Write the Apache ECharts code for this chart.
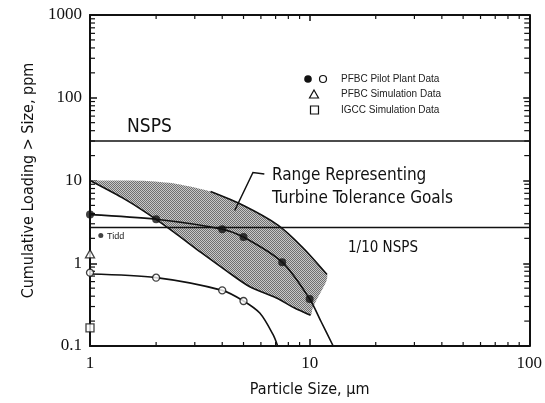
<!DOCTYPE html>
<html>
<head>
<meta charset="utf-8">
<script src="https://cdn.jsdelivr.net/npm/echarts@6.0.0/dist/echarts.min.js"></script>
<style>
  html, body { margin: 0; padding: 0; background: #fff; }
  #chart { width: 545px; height: 403px; }
</style>
</head>
<body>
<div id="chart"></div>
<script>
// PFBC pilot plant data (filled circles) and its curve
const filledX = [1, 2, 4, 5, 7.5, 10];
const filledY = [3.87, 3.4, 2.58, 2.07, 1.03, 0.37];
const filledCurveX = [1, 2, 4, 5, 7.5, 10, 11.3, 12.8];
const filledCurveY = [3.87, 3.4, 2.58, 2.07, 1.03, 0.37, 0.195, 0.1];

// PFBC pilot plant data (open circles) and its curve
const openX = [1, 2, 4, 5];
const openY = [0.77, 0.67, 0.47, 0.35];
const openCurveX = [1, 2, 4, 5, 5.93, 6.81, 7.15];
const openCurveY = [0.74, 0.67, 0.47, 0.35, 0.25, 0.138, 0.1];

// single points
const tidd = [1.12, 2.17];
const pfbcSim = [1, 1.3];
const igccSim = [1, 0.166];

// standards
const nspsLevel = 30;
const tenthNspsLevel = 2.7;

// turbine tolerance band
const bandUpperX = [1, 1.75, 2.48, 3.54, 5.0, 7.2, 9.3, 12.0];
const bandUpperY = [10, 9.9, 9.08, 7.34, 4.98, 2.87, 1.55, 0.73];
const bandEdgeX = [11.9, 11.4, 10.8, 10.3];
const bandEdgeY = [0.6, 0.48, 0.37, 0.28];
const bandLowerX = [10.1, 8.5, 7.06, 5.34, 4.18, 3.2, 2.4, 1.8, 1.4, 1];
const bandLowerY = [0.235, 0.29, 0.38, 0.52, 0.81, 1.35, 2.4, 4.1, 6.2, 10];
const bandOutlineFrom = 3; // upper outline drawn from this point on

// leader arrow for the band label
const leaderX = [6.22, 5.52, 4.56];
const leaderY = [12.0, 12.5, 4.34];

// axes
const xTicks = [1, 10, 100];
const xTickLabels = ['1', '10', '100'];
const yTicks = [0.1, 1, 10, 100, 1000];
const yTickLabels = ['0.1', '1', '10', '100', '1000'];
const xMinor = [2, 3, 4, 5, 6, 7, 8, 9, 20, 30, 40, 50, 60, 70, 80, 90];
const yMinor = [0.2, 0.3, 0.4, 0.5, 0.6, 0.7, 0.8, 0.9, 2, 3, 4, 5, 6, 7, 8, 9,
  20, 30, 40, 50, 60, 70, 80, 90, 200, 300, 400, 500, 600, 700, 800, 900];

const zip = (xs, ys) => xs.map((x, i) => [x, ys[i]]);

const band = zip(bandUpperX, bandUpperY)
  .concat(zip(bandEdgeX, bandEdgeY))
  .concat(zip(bandLowerX, bandLowerY));

// stipple fill for the band
const pat = document.createElement('canvas');
pat.width = 2;
pat.height = 2;
const pctx = pat.getContext('2d');
pctx.fillStyle = '#c8c8c8';
pctx.fillRect(0, 0, 2, 2);
pctx.fillStyle = '#707070';
pctx.fillRect(0, 0, 1, 1);
pctx.fillRect(1, 1, 1, 1);

const chart = echarts.init(document.getElementById('chart'));

const labelFont = 'Liberation Serif';
const condFont = 'DejaVu Sans Condensed';
const lineStyle = { color: '#111', width: 1.6 };

const option = {
  animation: false,
  backgroundColor: '#fff',
  grid: { left: 90, right: 15, top: 15, bottom: 55 },
  xAxis: [
    {
      type: 'log', logBase: 10, min: 1, max: 100,
      name: 'Particle Size, μm', nameLocation: 'middle', nameGap: 36,
      nameTextStyle: { fontFamily: condFont, fontSize: 16, color: '#111' },
      axisLine: { lineStyle: { color: '#111', width: 2 } },
      axisTick: { inside: true, length: 7, lineStyle: { color: '#111', width: 1.5 } },
      axisLabel: {
        fontFamily: labelFont, fontSize: 17, color: '#111', margin: 9,
        formatter: v => xTickLabels[xTicks.findIndex(t => Math.abs(t - v) < v * 1e-6)] || ''
      },
      splitLine: { show: false }
    },
    {
      type: 'log', logBase: 10, min: 1, max: 100, position: 'top',
      axisLine: { lineStyle: { color: '#111', width: 2 } },
      axisTick: { inside: true, length: 6, lineStyle: { color: '#111', width: 1.5 } },
      axisLabel: { show: false },
      splitLine: { show: false }
    }
  ],
  yAxis: [
    {
      type: 'log', logBase: 10, min: 0.1, max: 1000,
      name: 'Cumulative Loading > Size, ppm', nameLocation: 'middle', nameGap: 52,
      nameTextStyle: { fontFamily: condFont, fontSize: 16, color: '#111' },
      axisLine: { lineStyle: { color: '#111', width: 2 } },
      axisTick: { inside: true, length: 7, lineStyle: { color: '#111', width: 1.5 } },
      axisLabel: {
        fontFamily: labelFont, fontSize: 17, color: '#111', margin: 8,
        formatter: v => yTickLabels[yTicks.findIndex(t => Math.abs(t - v) < v * 1e-6)] || ''
      },
      splitLine: { show: false }
    },
    {
      type: 'log', logBase: 10, min: 0.1, max: 1000, position: 'right',
      axisLine: { lineStyle: { color: '#111', width: 2 } },
      axisTick: { inside: true, length: 6, lineStyle: { color: '#111', width: 1.5 } },
      axisLabel: { show: false },
      splitLine: { show: false }
    }
  ],
  graphic: [
    // legend, top right
    { type: 'circle', shape: { cx: 308, cy: 79, r: 3.8 }, style: { fill: '#111' } },
    { type: 'circle', shape: { cx: 323, cy: 79, r: 3.5 }, style: { fill: '#fff', stroke: '#111', lineWidth: 1.2 } },
    { type: 'text', x: 341, y: 79, style: { text: 'PFBC Pilot Plant Data', fontFamily: 'Liberation Sans', fontSize: 10, fill: '#222', verticalAlign: 'middle' } },
    { type: 'polygon', shape: { points: [[314, 90], [318.5, 98], [309.5, 98]] }, style: { fill: '#fff', stroke: '#111', lineWidth: 1.2 } },
    { type: 'text', x: 341, y: 94, style: { text: 'PFBC Simulation Data', fontFamily: 'Liberation Sans', fontSize: 10, fill: '#222', verticalAlign: 'middle' } },
    { type: 'rect', shape: { x: 310.5, y: 106, width: 8, height: 8 }, style: { fill: '#fff', stroke: '#111', lineWidth: 1.2 } },
    { type: 'text', x: 341, y: 110, style: { text: 'IGCC Simulation Data', fontFamily: 'Liberation Sans', fontSize: 10, fill: '#222', verticalAlign: 'middle' } },
    // annotations
    { type: 'text', x: 127, y: 127, style: { text: 'NSPS', fontFamily: condFont, fontSize: 19, fill: '#111', verticalAlign: 'middle' } },
    { type: 'text', x: 348, y: 248, style: { text: '1/10 NSPS', fontFamily: condFont, fontSize: 15, fill: '#111', verticalAlign: 'middle' } },
    { type: 'text', x: 272, y: 176, style: { text: 'Range Representing', fontFamily: condFont, fontSize: 17, fill: '#111', verticalAlign: 'middle' } },
    { type: 'text', x: 272, y: 199, style: { text: 'Turbine Tolerance Goals', fontFamily: condFont, fontSize: 17, fill: '#111', verticalAlign: 'middle' } },
    { type: 'text', x: 107, y: 237, style: { text: 'Tidd', fontFamily: 'Liberation Sans', fontSize: 9, fill: '#222', verticalAlign: 'middle' } }
  ],
  series: [
    {
      // shaded band
      type: 'custom', z: 1, clip: false, silent: true,
      data: [band[0]],
      renderItem: (params, api) => ({
        type: 'polygon',
        shape: { points: band.map(p => api.coord(p)), smooth: 0.25 },
        style: { fill: { image: pat, repeat: 'repeat' }, stroke: null }
      })
    },
    {
      // minor ticks on bottom and top
      type: 'custom', z: 3, clip: false, silent: true,
      data: xMinor.map(v => [v, 0.1]),
      renderItem: (params, api) => {
        const v = api.value(0);
        const b = api.coord([v, 0.1]);
        const t = api.coord([v, 1000]);
        return {
          type: 'group', children: [
            { type: 'line', shape: { x1: b[0], y1: b[1], x2: b[0], y2: b[1] - 4 }, style: { stroke: '#111', lineWidth: 1.2 } },
            { type: 'line', shape: { x1: t[0], y1: t[1], x2: t[0], y2: t[1] + 4 }, style: { stroke: '#111', lineWidth: 1.2 } }
          ]
        };
      }
    },
    {
      // minor ticks on left and right
      type: 'custom', z: 3, clip: false, silent: true,
      data: yMinor.map(v => [1, v]),
      renderItem: (params, api) => {
        const v = api.value(1);
        const l = api.coord([1, v]);
        const r = api.coord([100, v]);
        return {
          type: 'group', children: [
            { type: 'line', shape: { x1: l[0], y1: l[1], x2: l[0] + 5, y2: l[1] }, style: { stroke: '#111', lineWidth: 1.2 } },
            { type: 'line', shape: { x1: r[0], y1: r[1], x2: r[0] - 5, y2: r[1] }, style: { stroke: '#111', lineWidth: 1.2 } }
          ]
        };
      }
    },
    {
      // NSPS
      type: 'line', z: 2, symbol: 'none', lineStyle: { color: '#111', width: 1.6 },
      data: [[1, nspsLevel], [100, nspsLevel]]
    },
    {
      // 1/10 NSPS
      type: 'line', z: 2, symbol: 'none', lineStyle: { color: '#111', width: 1.6 },
      data: [[1, tenthNspsLevel], [100, tenthNspsLevel]]
    },
    {
      // band upper outline
      type: 'line', z: 2, symbol: 'none', smooth: 0.3, lineStyle,
      data: zip(bandUpperX, bandUpperY).slice(bandOutlineFrom)
    },
    {
      // band lower outline
      type: 'line', z: 2, symbol: 'none', smooth: 0.3, lineStyle,
      data: zip(bandLowerX, bandLowerY)
    },
    {
      type: 'lines', coordinateSystem: 'cartesian2d', z: 3, polyline: true,
      symbol: ['none', 'arrow'], symbolSize: 8,
      lineStyle: { color: '#111', width: 1.5, opacity: 1 },
      data: [{ coords: zip(leaderX, leaderY) }]
    },
    {
      type: 'line', z: 3, symbol: 'none', smooth: 0.3, lineStyle,
      data: zip(filledCurveX, filledCurveY)
    },
    {
      type: 'line', z: 3, symbol: 'none', smooth: 0.3, lineStyle,
      data: zip(openCurveX, openCurveY)
    },
    {
      type: 'scatter', z: 4, clip: false, symbol: 'circle', symbolSize: 8,
      itemStyle: { color: '#111' },
      data: zip(filledX, filledY)
    },
    {
      type: 'scatter', z: 4, clip: false, symbol: 'circle', symbolSize: 7,
      itemStyle: { color: '#fff', borderColor: '#111', borderWidth: 1.3 },
      data: zip(openX, openY)
    },
    {
      type: 'scatter', z: 4, clip: false, symbol: 'circle', symbolSize: 5,
      itemStyle: { color: '#111' },
      data: [tidd]
    },
    {
      type: 'scatter', z: 4, clip: false, symbol: 'triangle', symbolSize: [9, 8],
      itemStyle: { color: '#fff', borderColor: '#111', borderWidth: 1.3 },
      data: [pfbcSim]
    },
    {
      type: 'scatter', z: 4, clip: false, symbol: 'rect', symbolSize: 8,
      itemStyle: { color: '#fff', borderColor: '#111', borderWidth: 1.3 },
      data: [igccSim]
    }
  ]
};

chart.setOption(option);
</script>
</body>
</html>
